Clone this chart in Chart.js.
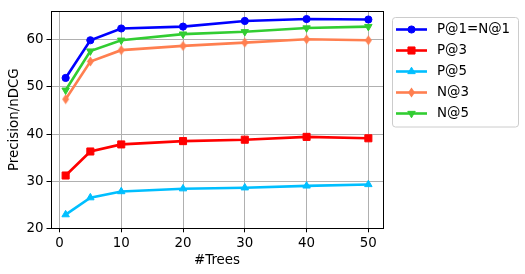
<!DOCTYPE html>
<html>
<head>
<meta charset="utf-8">
<script src="https://cdn.jsdelivr.net/npm/chart.js@4/dist/chart.umd.min.js"></script>
<style>
html,body{margin:0;padding:0;background:#fff;}
canvas{display:block;}
</style>
</head>
<body>
<canvas id="c" width="525" height="274"></canvas>
<script>
// ---- data ----
const trees = [1, 5, 10, 20, 30, 40, 50];
const p1 = [51.9, 59.9, 62.4, 62.8, 64.0, 64.4, 64.3];
const p3 = [31.2, 36.3, 37.8, 38.5, 38.8, 39.4, 39.1];
const p5 = [22.9, 26.5, 27.8, 28.4, 28.6, 29.0, 29.3];
const n3 = [47.4, 55.4, 57.8, 58.7, 59.4, 60.1, 59.9];
const n5 = [49.3, 57.6, 59.9, 61.2, 61.7, 62.5, 62.8];
const seriesNames = ['P@1=N@1', 'P@3', 'P@5', 'N@3', 'N@5'];
const xTicks = [0, 10, 20, 30, 40, 50];
const yTicks = [20, 30, 40, 50, 60];
const xTitle = '#Trees';
const yTitle = 'Precision/nDCG';

const FONT = 'DejaVu Sans';
const FS = 13.4;

// thin diamond marker
function thinDiamond(color) {
  const c = document.createElement('canvas');
  c.width = 9; c.height = 11;
  const g = c.getContext('2d');
  g.fillStyle = color;
  g.beginPath();
  g.moveTo(4.5, 0.5); g.lineTo(8, 5.5); g.lineTo(4.5, 10.5); g.lineTo(1, 5.5);
  g.closePath(); g.fill();
  return c;
}

const styles = [
  {color: '#0000ff', point: 'circle', r: 3.6, rot: 0},
  {color: '#ff0000', point: 'rect', r: 5.0, rot: 0},
  {color: '#00bfff', point: 'triangle', r: 4.3, rot: 0},
  {color: '#ff7f50', point: thinDiamond('#ff7f50'), r: 4, rot: 0},
  {color: '#32cd32', point: 'triangle', r: 4.3, rot: 180}
];
const values = [p1, p3, p5, n3, n5];

const datasets = values.map((vals, i) => ({
  label: seriesNames[i],
  data: trees.map((t, k) => ({x: t, y: vals[k]})),
  borderColor: styles[i].color,
  backgroundColor: styles[i].color,
  pointBackgroundColor: styles[i].color,
  pointBorderColor: styles[i].color,
  pointBorderWidth: 1,
  borderWidth: 2.6,
  pointStyle: styles[i].point,
  pointRadius: styles[i].r,
  pointRotation: styles[i].rot,
  tension: 0,
  fill: false,
  order: 10 - i
}));

function drawMarker(ctx, st, x, y) {
  ctx.save();
  ctx.fillStyle = st.color;
  ctx.strokeStyle = st.color;
  ctx.lineWidth = 1;
  if (st.point instanceof HTMLCanvasElement) {
    ctx.drawImage(st.point, x - st.point.width / 2, y - st.point.height / 2);
  } else if (st.point === 'circle') {
    ctx.beginPath(); ctx.arc(x, y, st.r, 0, Math.PI * 2); ctx.fill(); ctx.stroke();
  } else if (st.point === 'rect') {
    const s = st.r * Math.SQRT1_2;
    ctx.beginPath(); ctx.rect(x - s, y - s, 2 * s, 2 * s); ctx.fill(); ctx.stroke();
  } else if (st.point === 'triangle') {
    let rad = st.rot * Math.PI / 180;
    ctx.beginPath();
    for (let k = 0; k < 3; k++) {
      const px = x + Math.sin(rad) * st.r, py = y - Math.cos(rad) * st.r;
      if (k === 0) ctx.moveTo(px, py); else ctx.lineTo(px, py);
      rad += 2 * Math.PI / 3;
    }
    ctx.closePath(); ctx.fill(); ctx.stroke();
  }
  ctx.restore();
}

const framePlugin = {
  id: 'frame',
  afterDatasetsDraw(chart) {
    const a = chart.chartArea, ctx = chart.ctx;
    ctx.save();
    ctx.strokeStyle = '#000';
    ctx.lineWidth = 1;
    ctx.strokeRect(Math.round(a.left) + 0.5, Math.round(a.top) + 0.5,
                   Math.round(a.right - a.left) - 1, Math.round(a.bottom - a.top));
    ctx.restore();
  }
};

const legendPlugin = {
  id: 'outLegend',
  afterDraw(chart) {
    const ctx = chart.ctx;
    const bx = 392.5, by = 17.5, bw = 126, bh = 109.5, rr = 3;
    ctx.save();
    ctx.beginPath();
    ctx.moveTo(bx + rr, by);
    ctx.lineTo(bx + bw - rr, by); ctx.quadraticCurveTo(bx + bw, by, bx + bw, by + rr);
    ctx.lineTo(bx + bw, by + bh - rr); ctx.quadraticCurveTo(bx + bw, by + bh, bx + bw - rr, by + bh);
    ctx.lineTo(bx + rr, by + bh); ctx.quadraticCurveTo(bx, by + bh, bx, by + bh - rr);
    ctx.lineTo(bx, by + rr); ctx.quadraticCurveTo(bx, by, bx + rr, by);
    ctx.closePath();
    ctx.fillStyle = 'rgba(255,255,255,0.8)';
    ctx.fill();
    ctx.strokeStyle = '#cccccc';
    ctx.lineWidth = 1;
    ctx.stroke();
    ctx.font = FS + 'px "' + FONT + '"';
    ctx.textBaseline = 'middle';
    ctx.textAlign = 'left';
    chart.data.datasets.forEach((ds, i) => {
      const y = 29.5 + i * 21;
      ctx.strokeStyle = styles[i].color;
      ctx.lineWidth = 2.6;
      ctx.beginPath(); ctx.moveTo(396, y); ctx.lineTo(427, y); ctx.stroke();
      drawMarker(ctx, styles[i], 411.5, y);
      ctx.fillStyle = '#000';
      ctx.fillText(ds.label, 437, y + 0.5);
    });
    ctx.restore();
  }
};

Chart.defaults.font.family = FONT;
Chart.defaults.font.size = FS;
Chart.defaults.color = '#000';

new Chart(document.getElementById('c'), {
  type: 'line',
  data: {datasets},
  options: {
    responsive: false,
    animation: false,
    devicePixelRatio: 1,
    layout: {padding: {left: 0, right: 141.5, top: 10.7, bottom: 0}},
    plugins: {legend: {display: false}, tooltip: {enabled: false}},
    scales: {
      x: {
        type: 'linear',
        min: -1.45, max: 52.45,
        afterBuildTicks(s) { s.ticks = xTicks.map(v => ({value: v})); },
        afterFit(s) { s.height = 45.7; },
        ticks: {padding: 3, maxRotation: 0, autoSkip: false, font: {size: FS}},
        grid: {color: '#b0b0b0', lineWidth: 1, drawTicks: true, tickLength: 4, tickColor: '#000', tickWidth: 1},
        border: {display: false},
        title: {display: true, text: xTitle, padding: {top: 0, bottom: 5.5}, font: {size: FS}}
      },
      y: {
        type: 'linear',
        min: 20, max: 66.1,
        afterBuildTicks(s) { s.ticks = yTicks.map(v => ({value: v})); },
        afterFit(s) { s.width = 50.5; },
        ticks: {padding: 3, autoSkip: false, font: {size: FS}},
        grid: {color: '#b0b0b0', lineWidth: 1, drawTicks: true, tickLength: 4, tickColor: '#000', tickWidth: 1},
        border: {display: false},
        title: {display: true, text: yTitle, padding: {top: 6, bottom: 0}, font: {size: FS}}
      }
    }
  },
  plugins: [framePlugin, legendPlugin]
});
</script>
</body>
</html>
